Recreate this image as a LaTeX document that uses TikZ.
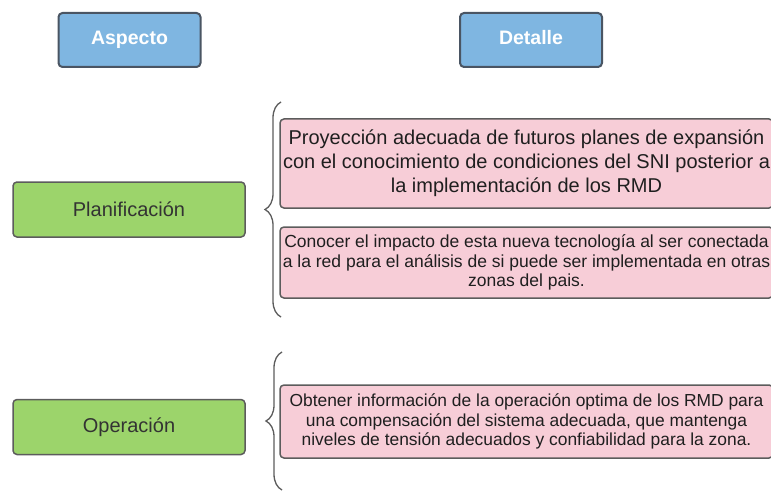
\documentclass[tikz,border=0pt]{standalone}
\usepackage{fontspec}
\setmainfont{Liberation Sans}
\usetikzlibrary{decorations.pathreplacing}

\definecolor{headblue}{HTML}{7FB6E1}
\definecolor{headedge}{HTML}{4A5563}
\definecolor{aspgreen}{HTML}{9CD46B}
\definecolor{detpink}{HTML}{F7CDD7}
\definecolor{edgegray}{HTML}{5C5C5C}
\definecolor{textgray}{HTML}{333333}

\begin{document}
\begin{tikzpicture}[
			x=1pt, y=-1pt,
			box/.style={
					rectangle,
					rounded corners=4pt,
					draw=edgegray,
					line width=1.5pt,
					inner sep=0pt,
					align=center
				},
			header/.style={box, fill=headblue, draw=headedge, line width=2pt,
					minimum width=142pt, minimum height=54pt, text=white,
					text height=14pt, text depth=4pt,
					font=\bfseries\fontsize{19.5}{23}\selectfont},
			aspect/.style={box, fill=aspgreen, minimum width=232pt, minimum height=55pt,
					text=textgray, font=\fontsize{20}{24}\selectfont},
			detail/.style={box, fill=detpink, minimum width=493pt, text=textgray!60!black},
			brace/.style={decorate, decoration={brace, amplitude=16pt}, draw=edgegray, line width=1.3pt}
		]
		\useasboundingbox (0,0) rectangle (771,492);
		\clip (0,0) rectangle (771,492);

		% Nodes
		\node[header] (aspecto) at (129.5,40) {Aspecto};
		\node[header] (detalle) at (531,40) {Detalle};
		\node[aspect] (plan) at (129,209.5) {Planificación};
		\node[aspect] (oper) at (129,427) {Operación};
		\node[detail, minimum height=89pt, font=\fontsize{20}{24}\selectfont] (proy) at (526.5,163.5)
			{Proyección adecuada de futuros planes de expansión \\ con el conocimiento de condiciones del SNI posterior a \\ la implementación de los RMD};
		\node[detail, minimum height=71pt, font=\fontsize{17.5}{19.5}\selectfont] (impacto) at (526.5,262.5)
			{Conocer el impacto de esta nueva tecnología al ser conectada \\ a la red para el análisis de si puede ser implementada en otras \\ zonas del pais.};
		\node[detail, minimum height=73pt, font=\fontsize{17.4}{19.5}\selectfont] (obtener) at (526.5,421.5)
			{Obtener información de la operación optima de los RMD para \\ una compensación del sistema adecuada, que mantenga \\ niveles de tensión adecuados y confiabilidad para la zona.};

		% Braces
		\coordinate (planbot) at (281,317);
		\coordinate (plantop) at (281,102);
		\coordinate (operbot) at (282,490);
		\coordinate (opertop) at (282,352);
		\draw[brace] (planbot) -- (plantop);
		\draw[brace] (operbot) -- (opertop);

	\end{tikzpicture}
\end{document}
